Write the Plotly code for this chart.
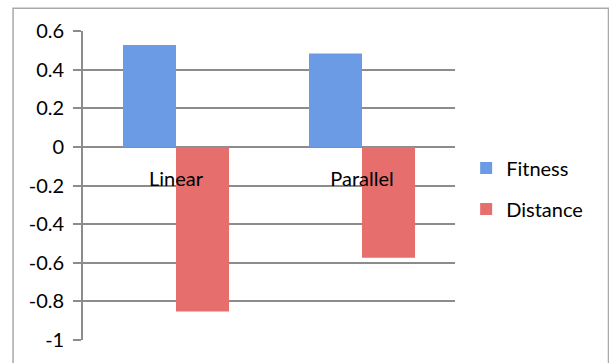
import plotly.graph_objects as go

categories = ["Linear", "Parallel"]
fitness = [0.528, 0.483]
distance = [-0.852, -0.574]
y_ticks = [0.6, 0.4, 0.2, 0, -0.2, -0.4, -0.6, -0.8, -1]
y_min, y_max = -1, 0.6

FONT = "Lato"

fig = go.Figure()
fig.add_trace(go.Bar(name="Fitness", x=categories, y=fitness,
                     marker=dict(color="#6a9be4", line=dict(width=0)),
                     legendgroup="f"))
fig.add_trace(go.Bar(name="Distance", x=categories, y=distance,
                     marker=dict(color="#e66e6c", line=dict(width=0)),
                     legendgroup="d"))

zero_pos = (0 - y_min) / (y_max - y_min)

fig.update_layout(
    width=609, height=363,
    margin=dict(l=83, r=154, t=31, b=19),
    paper_bgcolor="white", plot_bgcolor="white",
    barmode="group", bargap=0.43, bargroupgap=0,
    font=dict(family=FONT, size=20, color="black"),
    xaxis=dict(showgrid=False, showline=False, zeroline=False, ticks="",
               anchor="free", position=zero_pos, ticklabelstandoff=18,
               tickfont=dict(size=20)),
    yaxis=dict(range=[y_min, y_max], tickvals=y_ticks,
               ticktext=[("%g" % v) for v in y_ticks],
               showgrid=True, gridcolor="#8c8c8c", gridwidth=1.6,
               zeroline=False, showline=True, linecolor="#8c8c8c", linewidth=1.6,
               ticks="outside", ticklen=8, tickcolor="#8c8c8c", tickwidth=1.6,
               ticklabelstandoff=5, tickfont=dict(size=20)),
    legend=dict(x=1.03, y=0.62, xanchor="left", yanchor="top",
                traceorder="grouped", tracegroupgap=12,
                font=dict(size=20), bgcolor="rgba(0,0,0,0)"),
    shapes=[dict(type="rect", xref="paper", yref="paper",
                 x0=-0.188, x1=1.4126, y0=-0.1, y1=1.0735,
                 line=dict(color="#aaaaaa", width=1.5), fillcolor="rgba(0,0,0,0)",
                 layer="below")],
)

fig.write_html("out.html")
